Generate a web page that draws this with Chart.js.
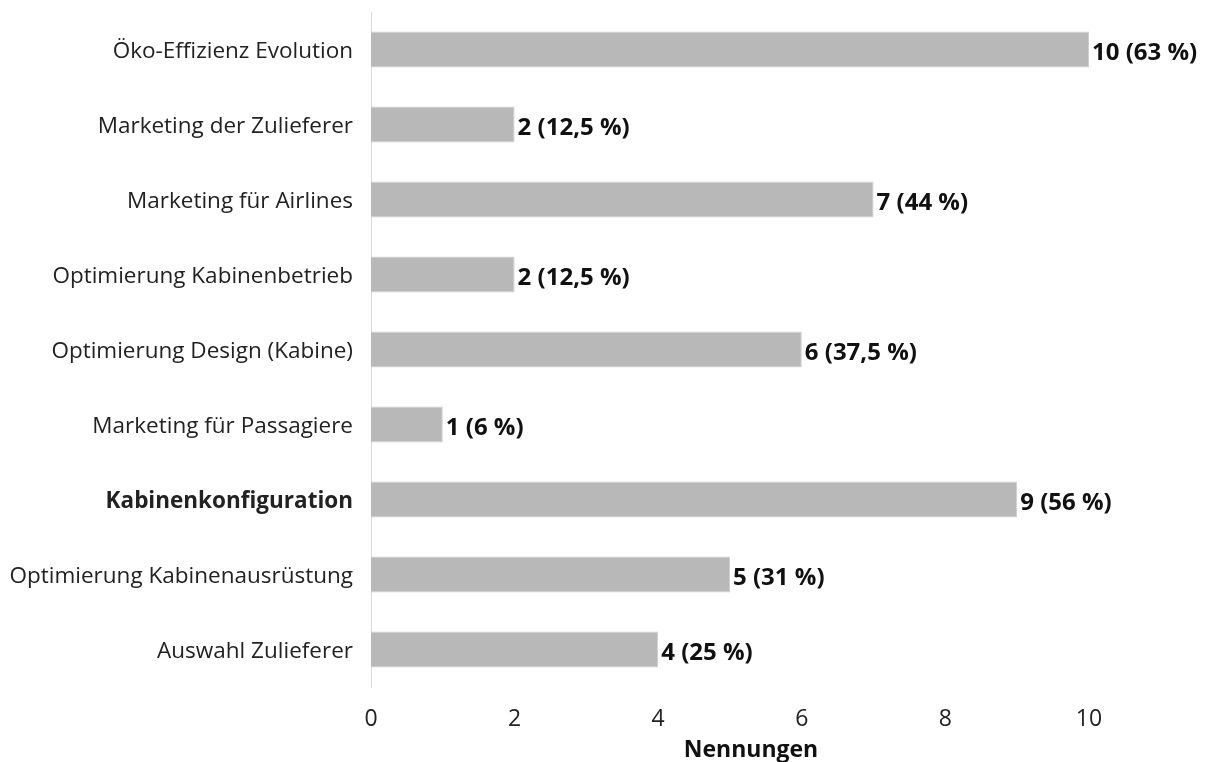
<!DOCTYPE html>
<html>
<head>
<meta charset="utf-8">
<script src="https://cdn.jsdelivr.net/npm/chart.js@4"></script>
<style>
  html, body { margin: 0; padding: 0; background: #fff; }
  #wrap { width: 1206px; height: 762px; }
</style>
</head>
<body>
<div id="wrap"><canvas id="c" width="1206" height="762"></canvas></div>
<script>
// Nennungen je Einsatzbereich (n = 16)
const categories = [
  'Öko-Effizienz Evolution',
  'Marketing der Zulieferer',
  'Marketing für Airlines',
  'Optimierung Kabinenbetrieb',
  'Optimierung Design (Kabine)',
  'Marketing für Passagiere',
  'Kabinenkonfiguration',
  'Optimierung Kabinenausrüstung',
  'Auswahl Zulieferer'
];
const counts = [10, 2, 7, 2, 6, 1, 9, 5, 4];
const shares = ['63', '12,5', '44', '12,5', '37,5', '6', '56', '31', '25'];
const xTicks = [0, 2, 4, 6, 8, 10];
const axisTitle = 'Nennungen';
const highlighted = 'Kabinenkonfiguration';

const FONT = '"Open Sans", "Segoe UI", sans-serif';
const SIZE = 23;

// Wertbeschriftung neben jedem Balken und Achsentitel
const annotations = {
  id: 'annotations',
  afterDatasetsDraw(chart) {
    const ctx = chart.ctx;
    const meta = chart.getDatasetMeta(0);
    ctx.save();
    ctx.font = 'bold 24px ' + FONT;
    ctx.fillStyle = '#111';
    ctx.textAlign = 'left';
    ctx.textBaseline = 'alphabetic';
    meta.data.forEach((bar, i) => {
      ctx.fillText(counts[i] + ' (' + shares[i] + ' %)', bar.x + 3, bar.y + 10);
    });
    const area = chart.chartArea;
    ctx.font = 'bold ' + SIZE + 'px ' + FONT;
    ctx.textAlign = 'center';
    ctx.fillText(axisTitle, (area.left + area.right) / 2 + 21, chart.height - 5);
    ctx.restore();
  }
};

new Chart(document.getElementById('c'), {
  type: 'bar',
  data: {
    labels: categories,
    datasets: [{
      data: counts,
      backgroundColor: '#b8b8b8',
      borderColor: '#cfcfcf',
      borderWidth: 1,
      categoryPercentage: 1,
      barPercentage: 0.48
    }]
  },
  options: {
    indexAxis: 'y',
    responsive: false,
    animation: false,
    devicePixelRatio: 1,
    layout: { padding: { left: 0, right: 117, top: 12, bottom: 0 } },
    plugins: { legend: { display: false }, tooltip: { enabled: false } },
    scales: {
      x: {
        min: 0,
        max: 10,
        afterBuildTicks(scale) { scale.ticks = xTicks.map(v => ({ value: v })); },
        afterFit(scale) {
          scale.height = 75;
          scale.paddingLeft = 0;
          scale.paddingRight = 0;
        },
        grid: { display: false, drawTicks: false },
        border: { display: false },
        ticks: { color: '#222', padding: 19, font: { family: FONT, size: SIZE } }
      },
      y: {
        afterFit(scale) {
          scale.width = 371;
          scale.paddingTop = 0;
          scale.paddingBottom = 0;
        },
        grid: { display: false, drawTicks: false },
        border: { display: true, color: '#d9d9d9', width: 1 },
        ticks: {
          color: '#222',
          padding: 18,
          labelOffset: 2,
          font: (c) => ({
            family: FONT,
            size: 22.5,
            weight: categories[c.index] === highlighted ? 'bold' : 'normal'
          })
        }
      }
    }
  },
  plugins: [annotations]
});
</script>
</body>
</html>
